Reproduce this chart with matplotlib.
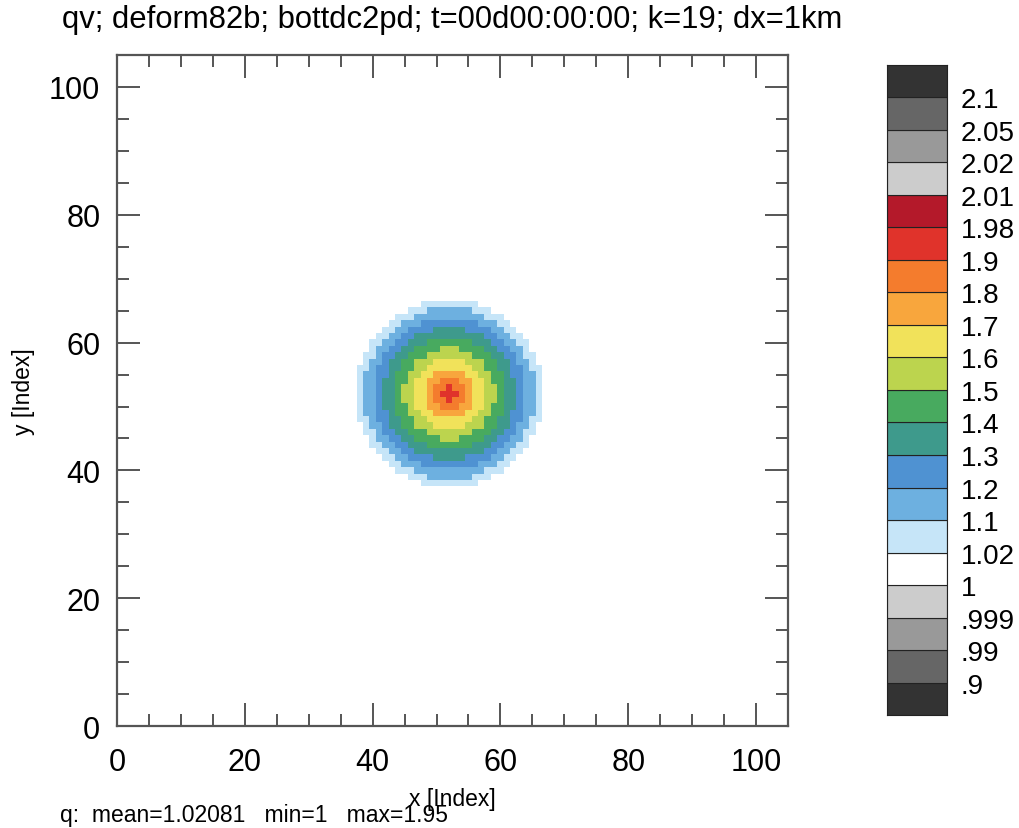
import numpy as np
import matplotlib
matplotlib.use("Agg")
import matplotlib.pyplot as plt
from matplotlib.colors import ListedColormap, BoundaryNorm

plt.rcParams["font.family"] = ["Liberation Sans", "DejaVu Sans"]

# ── contour levels and fill colours (bottom to top) ──
levels = [0.9, 0.99, 0.999, 1.0, 1.02, 1.1, 1.2, 1.3, 1.4, 1.5,
          1.6, 1.7, 1.8, 1.9, 1.98, 2.01, 2.02, 2.05, 2.1]
level_labels = [".9", ".99", ".999", "1", "1.02", "1.1", "1.2", "1.3", "1.4", "1.5",
                "1.6", "1.7", "1.8", "1.9", "1.98", "2.01", "2.02", "2.05", "2.1"]
colors = ["#333333", "#666666", "#999999", "#cccccc", "#ffffff",
          "#c6e5f8", "#6db0e0", "#4f92d2", "#3e9a8c", "#48aa5f",
          "#bcd44e", "#f1e25a", "#f8a63d", "#f47c2d", "#e0332b",
          "#b4192a", "#cccccc", "#999999", "#666666", "#333333"]

# ── field: band value vs outer radius (grid cells) ──
nx, ny = 106, 106
centre_x, centre_y = 52, 52
background = 1.0
band_values = [1.06, 1.15, 1.25, 1.35, 1.45, 1.55, 1.65, 1.75, 1.85, 1.95]
band_radii  = [14.6, 13.4, 11.8, 10.3, 8.7, 7.1, 5.5, 3.9, 2.4, 1.05]

stats_text = "q:  mean=1.02081   min=1   max=1.95"
title = "qv; deform82b; bottdc2pd; t=00d00:00:00; k=19; dx=1km"

# build grid
ii, jj = np.meshgrid(np.arange(nx), np.arange(ny))
dist = np.hypot(ii - centre_x, jj - centre_y)
q = np.full((ny, nx), background)
for val, rad in zip(band_values, band_radii):
    q[dist <= rad] = val

cmap = ListedColormap(colors)
norm = BoundaryNorm(levels, ncolors=len(colors), extend="both")

fig = plt.figure(figsize=(10.19, 8.29), dpi=100)
ax = fig.add_axes([0.1148, 0.1230, 0.6585, 0.8094])

xe = np.arange(nx + 1) - 0.5
ye = np.arange(ny + 1) - 0.5
ax.pcolormesh(xe, ye, q, cmap=cmap, norm=norm, shading="flat")
ax.set_xlim(0, 105)
ax.set_ylim(0, 105)

ax.set_xticks(np.arange(0, 101, 20))
ax.set_yticks(np.arange(0, 101, 20))
ax.set_xticks(np.arange(0, 106, 5), minor=True)
ax.set_yticks(np.arange(0, 106, 5), minor=True)
ax.tick_params(which="both", direction="in", top=True, right=True,
               color="#555555", width=1.4)
ax.tick_params(which="major", length=16.5, labelsize=22)
ax.tick_params(axis="x", which="major", pad=15)
ax.tick_params(axis="y", which="major", pad=12)
ax.tick_params(which="minor", length=8.5)
for sp in ax.spines.values():
    sp.set_linewidth(1.6)
    sp.set_color("#555555")

ax.set_xlabel("x [Index]", fontsize=16.5, labelpad=7)
ax.set_ylabel("y [Index]", fontsize=16.5, labelpad=10)
ax.set_title(title, fontsize=22.3, pad=20)

fig.text(0.059, 0.002, stats_text, fontsize=16.5, ha="left", va="bottom")

# ── label bar ──
cax = fig.add_axes([0.8705, 0.1363, 0.0588, 0.7841])
nbox = len(colors)
cax.bar(np.zeros(nbox), np.ones(nbox), bottom=np.arange(nbox), width=1,
        color=colors, edgecolor="#222222", linewidth=0.8)
cax.set_xlim(-0.5, 0.5)
cax.set_ylim(0, nbox)
cax.set_xticks([])
cax.set_yticks(np.arange(1, nbox))
cax.set_yticklabels(level_labels)
cax.yaxis.tick_right()
cax.tick_params(axis="y", length=0, labelsize=20, pad=10)
for sp in cax.spines.values():
    sp.set_linewidth(0.8)
    sp.set_color("#222222")

fig.savefig("out.png", dpi=100)
